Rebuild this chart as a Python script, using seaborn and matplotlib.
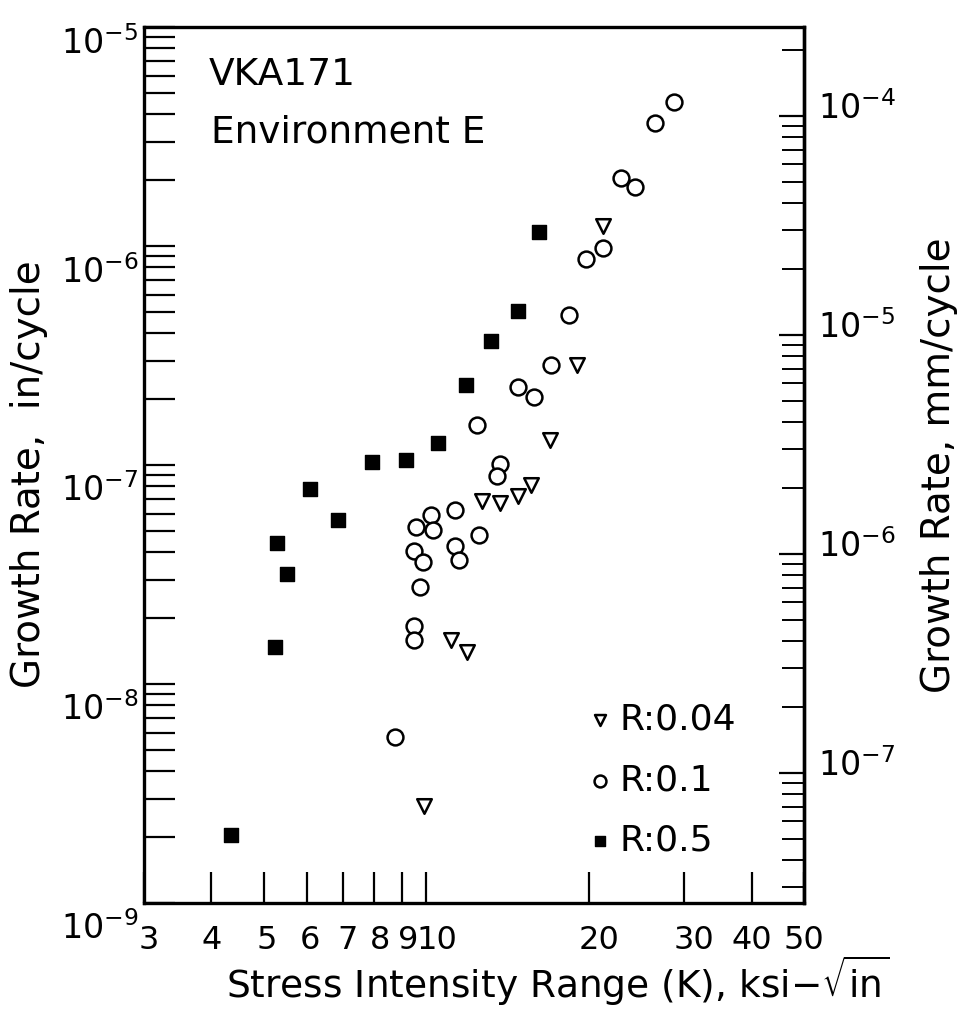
import numpy as np
import matplotlib
matplotlib.use("Agg")
import matplotlib.pyplot as plt
import matplotlib.transforms as mtransforms
from matplotlib.ticker import LogLocator, NullFormatter, FixedLocator, NullLocator
import seaborn as sns
import pandas as pd

# ---------------- data ----------------
series_labels = ["R:0.04", "R:0.1", "R:0.5"]

k_r004 = [21.2, 19.0, 16.9, 15.6, 14.8, 12.7, 13.7, 11.1, 11.9, 9.9]
rate_r004 = [1.23e-6, 2.86e-7, 1.30e-7, 8.1e-8, 7.2e-8, 6.85e-8, 6.7e-8,
             1.59e-8, 1.40e-8, 2.77e-9]

k_r01 = [28.7, 26.5, 22.9, 24.3, 21.2, 19.75, 18.4, 17.0, 14.8, 15.8, 12.4,
         13.7, 13.5, 11.3, 10.2, 9.57, 10.3, 12.5, 9.49, 11.3, 9.86, 11.5,
         9.73, 9.49, 9.49, 8.75]
rate_r01 = [4.55e-6, 3.65e-6, 2.05e-6, 1.86e-6, 9.8e-7, 8.7e-7, 4.85e-7,
            2.86e-7, 2.27e-7, 2.05e-7, 1.52e-7, 1.01e-7, 8.9e-8, 6.2e-8,
            5.9e-8, 5.2e-8, 5.05e-8, 4.8e-8, 4.05e-8, 4.27e-8, 3.6e-8,
            3.7e-8, 2.77e-8, 1.84e-8, 1.59e-8, 5.7e-9]

k_r05 = [4.35, 5.24, 5.29, 5.52, 6.09, 6.86, 7.93, 9.17, 10.5, 11.84, 13.17,
         14.78, 16.17]
rate_r05 = [2.05e-9, 1.48e-8, 4.4e-8, 3.18e-8, 7.77e-8, 5.61e-8, 1.03e-7,
            1.05e-7, 1.26e-7, 2.32e-7, 3.68e-7, 5.05e-7, 1.16e-6]

x_ticks = [3, 4, 5, 6, 7, 8, 9, 10, 20, 30, 40, 50]
x_ticklabels = ["3", "4", "5", "6", "7", "8", "9", "10", "20", "30", "40", "50"]
y_ticks = [1e-9, 1e-8, 1e-7, 1e-6, 1e-5]
y_ticklabels = [r"$10^{-9}$", r"$10^{-8}$", r"$10^{-7}$", r"$10^{-6}$", r"$10^{-5}$"]
mm_ticks = [1e-7, 1e-6, 1e-5, 1e-4]
mm_ticklabels = [r"$10^{-7}$", r"$10^{-6}$", r"$10^{-5}$", r"$10^{-4}$"]

# ---------------- style ----------------
sns.set_style("ticks")
plt.rcParams["font.family"] = ["DejaVu Sans"]
plt.rcParams["mathtext.fontset"] = "dejavusans"
for key in ["text.color", "axes.labelcolor", "xtick.color", "ytick.color",
            "axes.edgecolor"]:
    plt.rcParams[key] = "black"

fig = plt.figure(figsize=(9.69, 10.11), dpi=100)
ax = fig.add_axes([0.1486, 0.1068, 0.6811, 0.8665])

df04 = pd.DataFrame({"K": k_r004, "rate": rate_r004})
df01 = pd.DataFrame({"K": k_r01, "rate": rate_r01})
df05 = pd.DataFrame({"K": k_r05, "rate": rate_r05})

sns.scatterplot(data=df04, x="K", y="rate", ax=ax, marker="v", s=110,
                color="black", facecolor="white", edgecolor="black",
                linewidth=1.8, label=series_labels[0], zorder=3)
sns.scatterplot(data=df01, x="K", y="rate", ax=ax, marker="o", s=130,
                color="black", facecolor="white", edgecolor="black",
                linewidth=1.8, label=series_labels[1], zorder=3)
sns.scatterplot(data=df05, x="K", y="rate", ax=ax, marker="s", s=95,
                color="black", facecolor="black", edgecolor="black",
                linewidth=1.0, label=series_labels[2], zorder=3)

ax.set_xscale("log")
ax.set_yscale("log")
ax.set_xlim(3, 50)
ax.set_ylim(1e-9, 1e-5)

for sp in ax.spines.values():
    sp.set_linewidth(2.4)
    sp.set_color("black")

ax.xaxis.set_major_locator(FixedLocator(x_ticks))
ax.set_xticklabels(x_ticklabels)
ax.xaxis.set_minor_locator(NullLocator())
ax.yaxis.set_major_locator(FixedLocator(y_ticks))
ax.set_yticklabels(y_ticklabels)
ax.yaxis.set_minor_locator(LogLocator(base=10, subs=np.arange(2, 10)))
ax.yaxis.set_minor_formatter(NullFormatter())

ax.tick_params(axis="x", which="major", direction="in", length=22, width=1.6,
               top=False, pad=16, labelsize=23)
ax.tick_params(axis="y", which="both", direction="in", length=22, width=1.6,
               right=False, left=True, pad=4, labelsize=24)

# x tick labels: "9" and "10" sit slightly to the right as in the original
for lab, dx in zip(ax.get_xticklabels(), [0.05, 0, 0.03, 0.03, 0.05, 0.06, 0.06, 0.1, 0.1, 0.1, 0, 0]):
    lab.set_transform(lab.get_transform() +
                      mtransforms.ScaledTranslation(dx, 0, fig.dpi_scale_trans))

# left tick labels sit below their ticks
for lab, dy in zip(ax.get_yticklabels(), [-0.22, -0.22, -0.22, -0.23, -0.13]):
    lab.set_transform(lab.get_transform() +
                      mtransforms.ScaledTranslation(0, dy, fig.dpi_scale_trans))

# secondary axis in mm/cycle
sec = ax.secondary_yaxis("right", functions=(lambda v: v * 25.4, lambda v: v / 25.4))
sec.set_yticks(mm_ticks)
sec.set_yticklabels(mm_ticklabels)
sec.yaxis.set_minor_locator(LogLocator(base=10, subs=np.arange(2, 10)))
sec.yaxis.set_minor_formatter(NullFormatter())
sec.tick_params(axis="y", which="major", direction="in", length=18, width=1.6,
                pad=10, labelsize=24)
sec.tick_params(axis="y", which="minor", direction="in", length=16, width=1.4)
for sp in sec.spines.values():
    sp.set_linewidth(2.4)
off2 = mtransforms.ScaledTranslation(0, 0.11, fig.dpi_scale_trans)
for lab in sec.get_yticklabels():
    lab.set_transform(lab.get_transform() + off2)

ax.set_xlabel(r"Stress Intensity Range (K), ksi$-\sqrt{\mathrm{in}}$", fontsize=27)
ax.xaxis.set_label_coords(0.627, -0.058)
ax.set_ylabel("Growth Rate,  in/cycle", fontsize=28)
ax.yaxis.set_label_coords(-0.145, 0.49)
sec.set_ylabel("Growth Rate, mm/cycle", fontsize=28)
sec.yaxis.set_label_coords(1.176, 0.50, transform=ax.transAxes)

ax.text(0.098, 0.945, "VKA171", transform=ax.transAxes, fontsize=27,
        va="center", ha="left")
ax.text(0.102, 0.880, "Environment E", transform=ax.transAxes, fontsize=27,
        va="center", ha="left")

leg = ax.legend(loc="upper left", bbox_to_anchor=(0.625, 0.258), frameon=False,
                fontsize=26, markerscale=0.75, handletextpad=0.05,
                labelspacing=0.74, handlelength=1.0, borderpad=0.2)

fig.savefig("out.png", dpi=100)
